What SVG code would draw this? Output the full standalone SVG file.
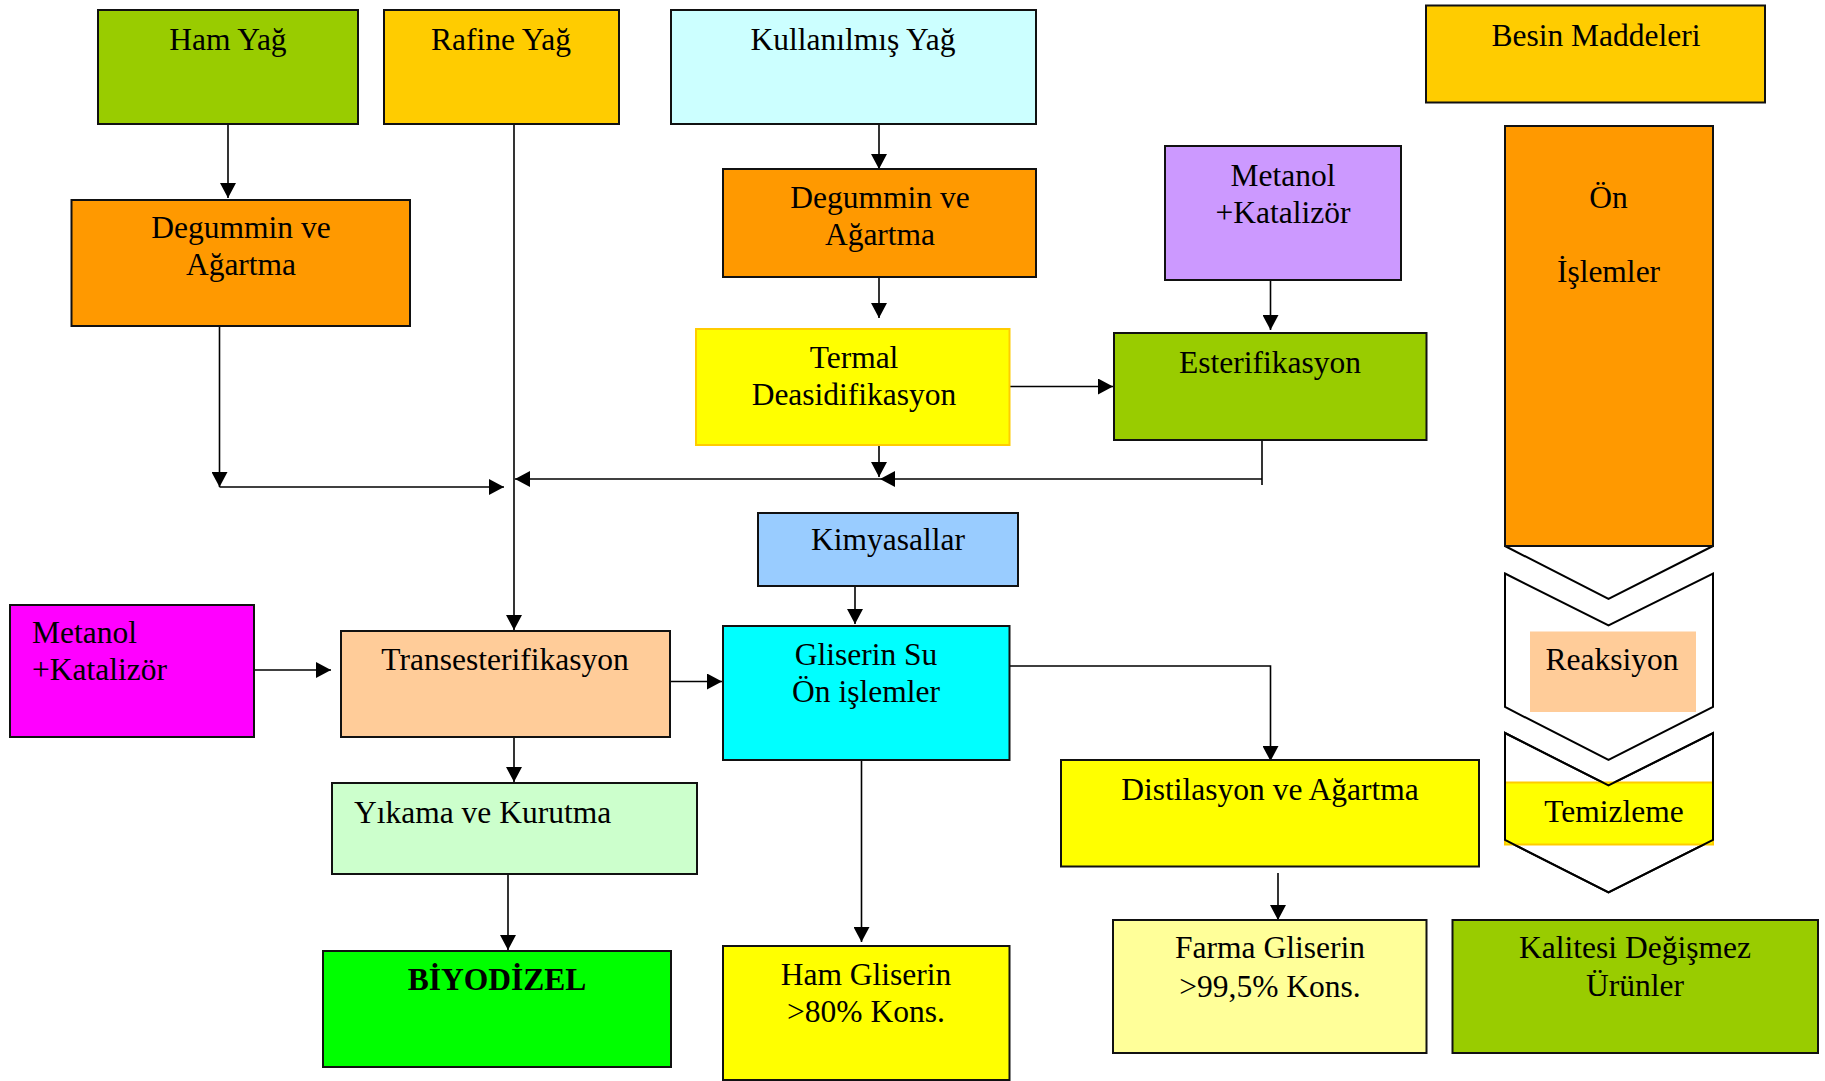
<svg xmlns="http://www.w3.org/2000/svg" width="1825" height="1081" viewBox="0 0 1825 1081">
  <defs>
    <marker id="arrow" markerUnits="userSpaceOnUse" markerWidth="16" markerHeight="16" refX="15" refY="8" orient="auto">
      <path d="M0,0 L15,8 L0,16 Z" fill="#000"/>
    </marker>
    <style>
      .box { stroke: #111; stroke-width: 2; }
      .soft { stroke: #FFCC00; stroke-width: 2; }
      .t { font-family: "Liberation Serif", "Times New Roman", serif; font-size: 31.5px; fill: #000; text-anchor: middle; }
      .l { text-anchor: start; }
      .b { font-weight: bold; }
      .conn line, .conn path { stroke: #000; stroke-width: 1.6; fill: none; }
      .arr { marker-end: url(#arrow); }
      .chev { fill: #fff; stroke: #000; stroke-width: 2; }
      .outline { fill: none; stroke: #000; stroke-width: 2; }
    </style>
  </defs>
  <rect width="1825" height="1081" fill="#fff"/>

  <!-- connectors -->
  <g class="conn">
    <line class="arr" x1="228" y1="116" x2="228" y2="198"/>
    <line class="arr" x1="219.5" y1="319" x2="219.5" y2="487"/>
    <line class="arr" x1="219.5" y1="487" x2="504" y2="487"/>
    <line class="arr" x1="514" y1="124" x2="514" y2="630"/>
    <line class="arr" x1="879" y1="124" x2="879" y2="169"/>
    <line class="arr" x1="879" y1="277" x2="879" y2="318"/>
    <line class="arr" x1="879" y1="426" x2="879" y2="477"/>
    <line class="arr" x1="1270.5" y1="275" x2="1270.5" y2="330"/>
    <line class="arr" x1="1009.5" y1="386.5" x2="1113" y2="386.5"/>
    <line x1="1262" y1="437" x2="1262" y2="485"/>
    <line class="arr" x1="1262" y1="479" x2="880" y2="479"/>
    <line class="arr" x1="880" y1="479" x2="515" y2="479"/>
    <line class="arr" x1="254" y1="670" x2="331" y2="670"/>
    <line class="arr" x1="670" y1="681.5" x2="722" y2="681.5"/>
    <line class="arr" x1="855" y1="583" x2="855" y2="624"/>
    <path class="arr" d="M1009.5,666 L1270.5,666 L1270.5,761"/>
    <line class="arr" x1="514" y1="730" x2="514" y2="782"/>
    <line class="arr" x1="508" y1="874" x2="508" y2="950"/>
    <line class="arr" x1="861.5" y1="753" x2="861.5" y2="942"/>
    <line class="arr" x1="1278" y1="873" x2="1278" y2="920"/>
  </g>

  <!-- input oils -->
  <g id="ham-yag">
    <rect class="box" x="98" y="10" width="260" height="114" fill="#99CC00"/>
    <text class="t" x="228" y="50">Ham Yağ</text>
  </g>
  <g id="rafine-yag">
    <rect class="box" x="384" y="10" width="235" height="114" fill="#FFCC00"/>
    <text class="t" x="501" y="50">Rafine Yağ</text>
  </g>
  <g id="kullanilmis-yag">
    <rect class="box" x="671" y="10" width="365" height="114" fill="#CCFFFF"/>
    <text class="t" x="853" y="50">Kullanılmış Yağ</text>
  </g>

  <!-- pretreatment -->
  <g id="degummin-1">
    <rect class="box" x="71.5" y="200" width="338.5" height="126" fill="#FF9900"/>
    <text class="t" x="241" y="238">Degummin ve</text>
    <text class="t" x="241" y="275">Ağartma</text>
  </g>
  <g id="degummin-2">
    <rect class="box" x="723" y="169" width="313" height="108" fill="#FF9900"/>
    <text class="t" x="880" y="208">Degummin ve</text>
    <text class="t" x="880" y="245">Ağartma</text>
  </g>
  <g id="metanol-1">
    <rect class="box" x="1165" y="146" width="236" height="134" fill="#CC99FF"/>
    <text class="t" x="1283" y="186">Metanol</text>
    <text class="t" x="1283" y="223">+Katalizör</text>
  </g>
  <g id="termal">
    <rect class="soft" x="696" y="329" width="313.5" height="116" fill="#FFFF00"/>
    <text class="t" x="854" y="368">Termal</text>
    <text class="t" x="854" y="405">Deasidifikasyon</text>
  </g>
  <g id="esterifikasyon">
    <rect class="box" x="1114" y="333" width="312.5" height="107" fill="#99CC00"/>
    <text class="t" x="1270" y="373">Esterifikasyon</text>
  </g>

  <!-- main process -->
  <g id="metanol-2">
    <rect class="box" x="10" y="605" width="244" height="132" fill="#FF00FF"/>
    <text class="t l" x="32" y="643">Metanol</text>
    <text class="t l" x="32" y="680">+Katalizör</text>
  </g>
  <g id="transesterifikasyon">
    <rect class="box" x="341" y="631" width="329" height="106" fill="#FFCC99"/>
    <text class="t" x="505" y="670">Transesterifikasyon</text>
  </g>
  <g id="kimyasallar">
    <rect class="box" x="758" y="513" width="260" height="73" fill="#99CCFF"/>
    <text class="t" x="888" y="550">Kimyasallar</text>
  </g>
  <g id="gliserin-su">
    <rect class="box" x="723" y="626" width="286.5" height="134" fill="#00FFFF"/>
    <text class="t" x="866" y="665">Gliserin Su</text>
    <text class="t" x="866" y="702">Ön işlemler</text>
  </g>
  <g id="yikama">
    <rect class="box" x="332" y="783" width="365" height="91" fill="#CCFFCC"/>
    <text class="t l" x="354" y="823">Yıkama ve Kurutma</text>
  </g>
  <g id="biyodizel">
    <rect class="box" x="323" y="951" width="348" height="116" fill="#00FF00"/>
    <text class="t b" x="497" y="990">BİYODİZEL</text>
  </g>
  <g id="ham-gliserin">
    <rect class="box" x="723" y="946" width="286.5" height="134" fill="#FFFF00"/>
    <text class="t" x="866" y="985">Ham Gliserin</text>
    <text class="t" x="866" y="1022">&gt;80% Kons.</text>
  </g>
  <g id="distilasyon">
    <rect class="box" x="1061" y="760" width="418" height="106.5" fill="#FFFF00"/>
    <text class="t" x="1270" y="800">Distilasyon ve Ağartma</text>
  </g>
  <g id="farma-gliserin">
    <rect class="box" x="1113" y="920" width="313.5" height="133" fill="#FFFF99"/>
    <text class="t" x="1270" y="958">Farma Gliserin</text>
    <text class="t" x="1270" y="997">&gt;99,5% Kons.</text>
  </g>

  <!-- feedstock column -->
  <g id="besin-maddeleri">
    <rect class="box" x="1426" y="5.5" width="339" height="97" fill="#FFCC00"/>
    <text class="t" x="1596" y="46">Besin Maddeleri</text>
  </g>
  <g id="on-islemler">
    <path class="chev" d="M1505,546 L1608.5,599 L1713,546"/>
    <rect class="box" x="1505" y="126" width="208" height="420" fill="#FF9900"/>
    <text class="t" x="1608.5" y="208">Ön</text>
    <text class="t" x="1608.5" y="282">İşlemler</text>
  </g>
  <g id="reaksiyon">
    <path class="chev" d="M1505,573.5 L1608.5,625.5 L1713,573.5 L1713,707 L1608.5,760 L1505,707 Z"/>
    <rect x="1530" y="631.5" width="166" height="80.5" fill="#FFCC99"/>
    <text class="t" x="1612" y="670">Reaksiyon</text>
  </g>
  <g id="temizleme">
    <path class="chev" d="M1505,733 L1608.5,785.5 L1713,733 L1713,840 L1608.5,892.5 L1505,840 Z"/>
    <rect class="soft" x="1505" y="782.5" width="208" height="62" fill="#FFFF00"/>
    <path class="outline" d="M1505,733 L1608.5,785.5 L1713,733 L1713,840 L1608.5,892.5 L1505,840 Z"/>
    <text class="t" x="1614" y="822">Temizleme</text>
  </g>
  <g id="kalitesi">
    <rect class="box" x="1452.5" y="920" width="365.5" height="133" fill="#99CC00"/>
    <text class="t" x="1635" y="958">Kalitesi Değişmez</text>
    <text class="t" x="1635" y="996">Ürünler</text>
  </g>
</svg>
